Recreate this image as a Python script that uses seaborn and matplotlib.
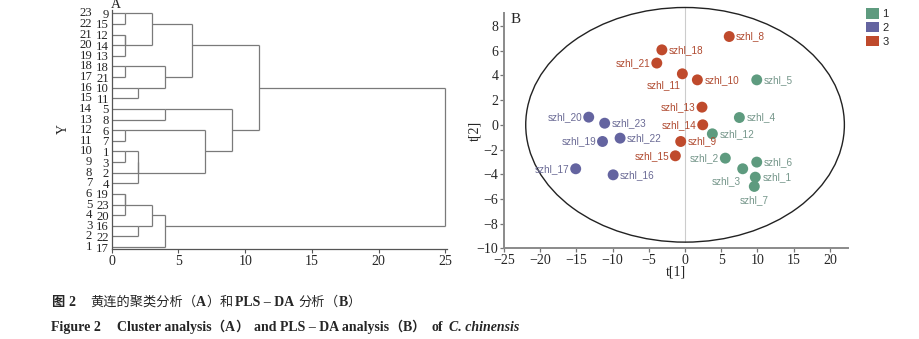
import matplotlib
matplotlib.use("Agg")
import matplotlib.pyplot as plt
from matplotlib.patches import Ellipse, Patch
import matplotlib.transforms as mtransforms
import pandas as pd
import seaborn as sns

# ---------------- (A) hierarchical clustering ----------------
# leaves listed from top to bottom of the dendrogram
leaf_order = [9, 15, 12, 14, 13, 18, 21, 10, 11, 5, 8, 6, 7, 1, 3, 2, 4,
              19, 23, 20, 16, 22, 17]
# agglomeration schedule: step k joins merge_a[k] and merge_b[k] at merge_dist[k];
# "Mk" refers to the cluster produced by step k
merge_a = [9, 12, "M1", "M0", 18, 10, "M4", "M3", 5, 6, 1, "M10", "M11",
           "M9", "M8", "M7", 19, "M16", 16, "M17", "M19", "M15"]
merge_b = [15, 14, 13, "M2", 21, 11, "M5", "M6", 8, 7, 3, 2, 4,
           "M12", "M13", "M14", 23, 20, 22, "M18", 17, "M20"]
merge_dist = [1, 1, 1, 3, 1, 2, 4, 6, 4, 1, 1, 2, 2,
              7, 9, 11, 1, 1, 2, 3, 4, 25]
dist_ticks = [0, 5, 10, 15, 20, 25]

# ---------------- (B) PLS-DA score plot ----------------
sample_no = list(range(1, 24))
t1_scores = [9.7, 5.56, 7.96, 7.5, 9.9, 9.9, 9.56, 6.1, -0.6, 1.7, -0.37,
             3.77, 2.34, 2.44, -1.34, -9.93, -15.1, -3.2, -11.4, -13.3,
             -3.9, -8.97, -11.1]
t2_scores = [-4.24, -2.7, -3.56, 0.59, 3.64, -3.02, -4.99, 7.15, -1.35,
             3.64, 4.13, -0.73, 1.43, 0.0, -2.51, -4.05, -3.56, 6.07,
             -1.35, 0.62, 5.0, -1.08, 0.13]
class_id = [1, 1, 1, 1, 1, 1, 1, 3, 3, 3, 3, 1, 3, 3, 3, 2, 2, 3, 2, 2,
            3, 2, 2]
class_labels = ["1", "2", "3"]
ellipse_semi_axes = (22.0, 9.5)
t1_ticks = [-25, -20, -15, -10, -5, 0, 5, 10, 15, 20]
t2_ticks = [-10, -8, -6, -4, -2, 0, 2, 4, 6, 8]

# ---------------- style ----------------
sns.set_theme(style="ticks")
plt.rcParams["font.family"] = ["Liberation Serif", "Noto Sans CJK SC"]
plt.rcParams["axes.unicode_minus"] = True

W_PX, H_PX = 920, 339
fig = plt.figure(figsize=(W_PX / 100, H_PX / 100), dpi=100)
fig.patch.set_facecolor("white")


def px_box(left, top, right, bottom):
    return [left / W_PX, 1 - bottom / H_PX, (right - left) / W_PX,
            (bottom - top) / H_PX]


# ======== panel A: dendrogram ========
axA = fig.add_axes(px_box(111.7, 10.1, 447.5, 248.6))
n_leaf = len(leaf_order)
line_kw = dict(color="#7a7a7a", lw=0.9, solid_capstyle="butt")


def row_y(r):
    return n_leaf - r


nodes = {leaf: (i, 0.0) for i, leaf in enumerate(leaf_order)}
for k, (a, b, d) in enumerate(zip(merge_a, merge_b, merge_dist)):
    ra, xa = nodes[a]
    rb, xb = nodes[b]
    axA.plot([xa, d], [row_y(ra), row_y(ra)], **line_kw)
    axA.plot([xb, d], [row_y(rb), row_y(rb)], **line_kw)
    axA.plot([d, d], [row_y(ra), row_y(rb)], **line_kw)
    nodes[f"M{k}"] = ((ra + rb) // 2, float(d))

axA.set_xlim(0, 25.15)
axA.set_ylim(0.85, 23.3)
axA.set_xticks(dist_ticks)
axA.set_xticklabels([str(t) for t in dist_ticks], fontsize=10)
axA.set_yticks([row_y(i) for i in range(n_leaf)])
axA.set_yticklabels([str(s) for s in leaf_order], fontsize=9.2)
axA.tick_params(axis="y", length=0, pad=2)
axA.tick_params(axis="x", length=3, width=0.8, color="#555555", pad=1.5)
for side in ("top", "right"):
    axA.spines[side].set_visible(False)
for side in ("left", "bottom"):
    axA.spines[side].set_color("#555555")
    axA.spines[side].set_linewidth(0.9)
# outer column: case numbers
tr = mtransforms.blended_transform_factory(axA.transAxes, axA.transData)
for i in range(n_leaf):
    axA.text(-0.058, row_y(i), str(row_y(i)), transform=tr, ha="right",
             va="center", fontsize=9.2)
axA.set_ylabel("Y", fontsize=10)
axA.yaxis.set_label_coords(-0.125, 0.5)
fig.text(116 / W_PX, 1 - 5 / H_PX, "A", ha="center", va="center",
         fontsize=10)

# ======== panel B: PLS-DA scores ========
axB = fig.add_axes(px_box(504, 13.3, 848, 248.3))
df = pd.DataFrame({"sample": [f"szhl_{n}" for n in sample_no],
                   "t1": t1_scores, "t2": t2_scores,
                   "cls": [str(c) for c in class_id]})
point_colors = {"1": "#5e9b7f", "2": "#6464a0", "3": "#bf4a2c"}
text_colors = {"1": "#75968a", "2": "#6a6a95", "3": "#b04a30"}

ax_w, ax_h = ellipse_semi_axes
axB.add_patch(Ellipse((0, 0), 2 * ax_w, 2 * ax_h, fill=False,
                      edgecolor="#222222", lw=1.0, clip_on=False, zorder=1))
axB.plot([0, 0], [-ax_h, ax_h], color="#cccccc", lw=0.8, clip_on=False,
         zorder=0.5)

sns.scatterplot(data=df, x="t1", y="t2", hue="cls", palette=point_colors,
                s=62, edgecolor="none", linewidth=0, legend=False, ax=axB,
                zorder=3)

# label placement around each point (offsets in points)
left_side = {2, 13, 14, 15, 17, 19, 20, 21}
custom = {11: (-13.5, -8.0, "center"), 3: (-12.0, -8.6, "center"),
          7: (0.0, -9.6, "center")}
for n, x, y, c in zip(sample_no, t1_scores, t2_scores, class_id):
    if n in custom:
        dx, dy, ha = custom[n]
    elif n in left_side:
        dx, dy, ha = -4.6, 0.0, "right"
    else:
        dx, dy, ha = 5.0, 0.0, "left"
    axB.annotate(f"szhl_{n}", (x, y), xytext=(dx, dy),
                 textcoords="offset points", ha=ha, va="center",
                 fontsize=7.2, color=text_colors[str(c)],
                 family=["Liberation Sans Narrow", "Liberation Sans"],
                 zorder=4)

axB.set_xlim(-25, 22.5)
axB.set_ylim(-10, 9.03)
axB.set_xticks(t1_ticks)
axB.set_yticks(t2_ticks)
axB.tick_params(labelsize=10, length=3, width=0.9, color="#777777", pad=1)
axB.set_xlabel("t[1]", fontsize=10, labelpad=-1)
axB.set_ylabel("t[2]", fontsize=10, labelpad=-3)
for side in ("top", "right"):
    axB.spines[side].set_visible(False)
for side in ("left", "bottom"):
    axB.spines[side].set_color("#8a8a8a")
    axB.spines[side].set_linewidth(1.4)
fig.text(516 / W_PX, 1 - 19.5 / H_PX, "B", ha="center", va="center",
         fontsize=11)

handles = [Patch(facecolor=point_colors[c], edgecolor="none") for c in class_labels]
fig.legend(handles, class_labels, loc="upper left",
           bbox_to_anchor=(862 / W_PX, 1 - 4 / H_PX), frameon=False,
           handlelength=1.1, handleheight=1.05,
           handletextpad=0.35, labelspacing=0.25, borderaxespad=0,
           prop={"family": ["Liberation Sans"], "size": 8})

# ======== bilingual caption ========
renderer = fig.canvas.get_renderer()


def draw_runs(base_px, runs):
    """Place text runs left to right; a bare number is a gap in px,
    a one-element list sets the next x position in px."""
    x = 0.0
    for item in runs:
        if isinstance(item, list):
            x = item[0]
            continue
        if isinstance(item, (int, float)):
            x += item
            continue
        txt, kw = item
        t = fig.text(x / W_PX, 1 - base_px / H_PX, txt, ha="left",
                     va="baseline", **kw)
        x += t.get_window_extent(renderer).width


cjk = dict(family=["Noto Sans CJK SC"], fontsize=9.5)
cjk_b = dict(cjk, fontweight="bold")
serif_b = dict(family=["Liberation Serif"], fontsize=10, fontweight="bold")
serif_bi = dict(serif_b, fontstyle="italic")

draw_runs(306, [[51], ("图", cjk_b), 4, ("2", serif_b),
                [90], ("黄连的聚类分析", cjk), ("（", cjk), ("A", serif_b),
                ("）", cjk), ("和", cjk), 3, ("PLS – DA", serif_b), 4,
                ("分析", cjk), ("（", cjk), ("B", serif_b), ("）", cjk)])
draw_runs(331, [[51], ("Figure 2", serif_b), [117], ("Cluster analysis", serif_b),
                ("（", cjk_b), ("A", serif_b), ("）", cjk_b), 6,
                ("and PLS – DA analysis", serif_b),
                ("（", cjk_b), ("B", serif_b), ("）", cjk_b), 7,
                ("of", serif_b), 5, ("C. chinensis", serif_bi)])

fig.savefig("out.png", dpi=100, facecolor="white")
